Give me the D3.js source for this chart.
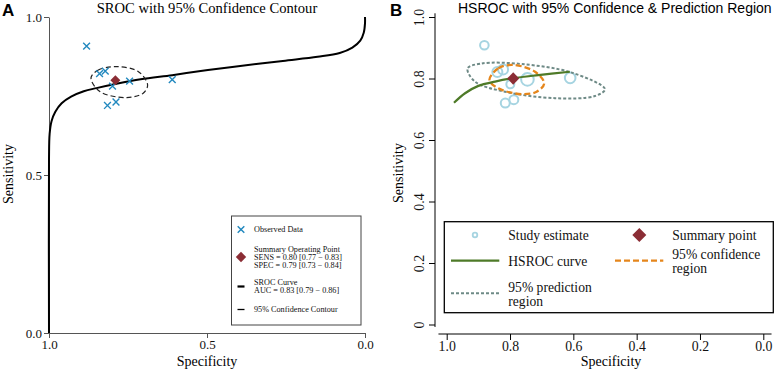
<!DOCTYPE html>
<html><head><meta charset="utf-8">
<script src="https://cdn.jsdelivr.net/npm/d3@7"></script>
<style>body{margin:0;background:#fff} svg{display:block}</style>
</head><body>
<svg id="c" width="778" height="371"></svg>
<script>
// ---------- DATA ----------
const studySpec = [0.881, 0.840, 0.822, 0.799, 0.745, 0.610, 0.815, 0.788];
const studySens = [0.908, 0.821, 0.829, 0.781, 0.797, 0.802, 0.720, 0.731];
const studySize = [4.3, 5.0, 5.0, 4.0, 6.3, 5.3, 4.5, 4.5];
const summarySpec = 0.79, summarySens = 0.80;

const srocSpec = [1.0, 1.0, 0.998, 0.992, 0.98, 0.96, 0.93, 0.89, 0.85, 0.79, 0.71, 0.61, 0.52, 0.42, 0.26, 0.15, 0.08, 0.04, 0.015, 0.004, 0.0, 0.0];
const srocSens = [0.0, 0.55, 0.63, 0.67, 0.70, 0.727, 0.748, 0.765, 0.775, 0.788, 0.803, 0.816, 0.829, 0.842, 0.861, 0.874, 0.886, 0.903, 0.925, 0.95, 0.98, 1.0];

const confASpec = [0.867, 0.844, 0.786, 0.717, 0.688, 0.702, 0.754, 0.839];
const confASens = [0.808, 0.832, 0.843, 0.827, 0.785, 0.759, 0.745, 0.764];

const hsrocSpec = [0.977, 0.942, 0.900, 0.847, 0.790, 0.711, 0.611];
const hsrocSens = [0.721, 0.752, 0.776, 0.790, 0.801, 0.811, 0.822];

const confBSpec = [0.865, 0.837, 0.790, 0.721, 0.692, 0.716, 0.763, 0.837];
const confBSens = [0.795, 0.833, 0.844, 0.822, 0.784, 0.757, 0.749, 0.768];

const predBSpec = [0.934, 0.889, 0.763, 0.605, 0.500, 0.532, 0.658, 0.816, 0.911];
const predBSens = [0.833, 0.849, 0.847, 0.819, 0.765, 0.743, 0.736, 0.757, 0.790];

const ticksA = [1.0, 0.5, 0.0];
const ticksB = [1.0, 0.8, 0.6, 0.4, 0.2, 0.0];
const tickLabelsBy = ["0", "0.2", "0.4", "0.6", "0.8", "1.0"];
const ticksBy = [0, 0.2, 0.4, 0.6, 0.8, 1.0];

const legendA = [
  {type:"cross", lines:["Observed Data"]},
  {type:"diamond", lines:["Summary Operating Point","SENS = 0.80 [0.77 \u2212 0.83]","SPEC = 0.79 [0.73 \u2212 0.84]"]},
  {type:"thick", lines:["SROC Curve","AUC = 0.83 [0.79 \u2212 0.86]"]},
  {type:"thin", lines:["95% Confidence Contour"]}
];

// ---------- STYLE ----------
const SERIF = "'Liberation Serif','Times New Roman',serif";
const SANS = "'Liberation Sans',Arial,sans-serif";
const crossCol = "#2389bf", diamondCol = "#8b2d35", circCol = "#a6d4e1",
      greenCol = "#4e7a28", orangeCol = "#e5861c", greyCol = "#6e8a86";

const svg = d3.select("#c");
const zip = (a, b) => a.map((v, i) => [v, b[i]]);

// ================= PANEL A =================
const xA = d3.scaleLinear().domain([1, 0]).range([49, 365]);
const yA = d3.scaleLinear().domain([0, 1]).range([333, 17]);
const gA = svg.append("g");

const axA = gA.append("g").attr("transform", "translate(0,333)")
  .call(d3.axisBottom(xA).tickValues(ticksA).tickFormat(d3.format(".1f")).tickSize(5).tickSizeOuter(0).tickPadding(2));
const ayA = gA.append("g").attr("transform", "translate(49,0)")
  .call(d3.axisLeft(yA).tickValues(ticksA).tickFormat(d3.format(".1f")).tickSize(5).tickSizeOuter(0).tickPadding(2));
[axA, ayA].forEach(a => {
  a.selectAll("path,line").attr("stroke", "#555").attr("stroke-width", 1);
  a.selectAll("text").attr("font-family", SERIF).attr("font-size", 13).attr("fill", "#111");
});

gA.append("text").attr("x", 207).attr("y", 13).attr("text-anchor", "middle")
  .attr("font-family", SERIF).attr("font-size", 14.6).text("SROC with 95% Confidence Contour");
gA.append("text").attr("x", 2).attr("y", 16).attr("font-family", SANS).attr("font-weight", "bold")
  .attr("font-size", 17).text("A");
gA.append("text").attr("x", 207).attr("y", 366).attr("text-anchor", "middle")
  .attr("font-family", SERIF).attr("font-size", 14).text("Specificity");
gA.append("text").attr("transform", "translate(12.5,174) rotate(-90)").attr("text-anchor", "middle")
  .attr("font-family", SERIF).attr("font-size", 14).text("Sensitivity");

// SROC curve
gA.append("path").datum(zip(srocSpec, srocSens))
  .attr("d", d3.line().x(d => xA(d[0])).y(d => yA(d[1])).curve(d3.curveCatmullRom.alpha(0.5)))
  .attr("fill", "none").attr("stroke", "#000").attr("stroke-width", 2);

// confidence contour
gA.append("path").datum(zip(confASpec, confASens))
  .attr("d", d3.line().x(d => xA(d[0])).y(d => yA(d[1])).curve(d3.curveCatmullRomClosed.alpha(0.5)))
  .attr("fill", "none").attr("stroke", "#222").attr("stroke-width", 1.2).attr("stroke-dasharray", "5,3");

// crosses
const crossPath = (cx, cy, r) => `M${cx-r},${cy-r}L${cx+r},${cy+r}M${cx-r},${cy+r}L${cx+r},${cy-r}`;
gA.selectAll("path.cross").data(zip(studySpec, studySens)).join("path").attr("class", "cross")
  .attr("d", d => crossPath(xA(d[0]), yA(d[1]), 3.4))
  .attr("stroke", crossCol).attr("stroke-width", 1.4).attr("fill", "none");

// summary diamond
const diamond = (cx, cy, w, h) => `M${cx},${cy-h}L${cx+w},${cy}L${cx},${cy+h}L${cx-w},${cy}Z`;
gA.append("path").attr("d", diamond(xA(summarySpec), yA(summarySens), 5, 5)).attr("fill", diamondCol);

// legend A
const lgA = gA.append("g");
lgA.append("rect").attr("x", 231.5).attr("y", 216).attr("width", 129.5).attr("height", 109)
  .attr("fill", "#fff").attr("stroke", "#444").attr("stroke-width", 1);
const legAy = [229.5, 257, 286.5, 309.5];
legendA.forEach((it, i) => {
  const cy = legAy[i], mx = 241;
  if (it.type === "cross") lgA.append("path").attr("d", crossPath(mx, cy, 3.3)).attr("stroke", crossCol).attr("stroke-width", 1.5);
  if (it.type === "diamond") lgA.append("path").attr("d", diamond(mx, cy, 5.2, 5.2)).attr("fill", diamondCol);
  if (it.type === "thick") lgA.append("line").attr("x1", mx-3.5).attr("x2", mx+3.5).attr("y1", cy).attr("y2", cy).attr("stroke", "#000").attr("stroke-width", 2.2);
  if (it.type === "thin") lgA.append("line").attr("x1", mx-3.5).attr("x2", mx+3.5).attr("y1", cy).attr("y2", cy).attr("stroke", "#000").attr("stroke-width", 1.3);
  const n = it.lines.length, lh = 8;
  it.lines.forEach((t, j) => {
    lgA.append("text").attr("x", 254).attr("y", cy + (j - (n-1)/2) * lh + 2.8)
      .attr("font-family", SERIF).attr("font-size", 8.2).attr("fill", "#111").text(t);
  });
});

// ================= PANEL B =================
const xB = d3.scaleLinear().domain([1, 0]).range([446.7, 763.3]);
const yB = d3.scaleLinear().domain([0, 1]).range([324.5, 17]);
const gB = svg.append("g");

// axis lines (R style)
gB.append("line").attr("x1", xB(1.026)).attr("x2", xB(-0.026)).attr("y1", 334).attr("y2", 334).attr("stroke", "#000");
gB.append("line").attr("x1", 435).attr("x2", 435).attr("y1", yB(1.012)).attr("y2", yB(-0.008)).attr("stroke", "#000");
const axB = gB.append("g").attr("transform", "translate(0,334)")
  .call(d3.axisBottom(xB).tickValues(ticksB).tickFormat(d3.format(".1f")).tickSize(6).tickSizeOuter(0).tickPadding(1));
const ayB = gB.append("g").attr("transform", "translate(435,0)")
  .call(d3.axisLeft(yB).tickValues(ticksBy).tickFormat((d, i) => tickLabelsBy[i]).tickSize(6).tickSizeOuter(0));
[axB, ayB].forEach(a => {
  a.select(".domain").remove();
  a.selectAll("line").attr("stroke", "#000");
  a.selectAll("text").attr("font-family", SERIF).attr("font-size", 13.8).attr("fill", "#111");
});
ayB.selectAll(".tick text").attr("x", null).attr("dy", null)
  .attr("text-anchor", "middle").attr("transform", "translate(-11,0) rotate(-90)");

gB.append("text").attr("x", 458).attr("y", 12.5).attr("font-family", SANS).attr("font-size", 14)
  .text("HSROC with 95% Confidence & Prediction Region");
gB.append("text").attr("x", 390).attr("y", 16).attr("font-family", SANS).attr("font-weight", "bold")
  .attr("font-size", 17).text("B");
gB.append("text").attr("x", 611).attr("y", 366).attr("text-anchor", "middle")
  .attr("font-family", SERIF).attr("font-size", 14).text("Specificity");
gB.append("text").attr("transform", "translate(403,173) rotate(-90)").attr("text-anchor", "middle")
  .attr("font-family", SERIF).attr("font-size", 14).text("Sensitivity");

// study circles
gB.selectAll("circle.st").data(studySpec.map((s, i) => [s, studySens[i], studySize[i]])).join("circle")
  .attr("class", "st").attr("cx", d => xB(d[0])).attr("cy", d => yB(d[1])).attr("r", d => d[2])
  .attr("fill", "none").attr("stroke", circCol).attr("stroke-width", 2);

// prediction region
gB.append("path").datum(zip(predBSpec, predBSens))
  .attr("d", d3.line().x(d => xB(d[0])).y(d => yB(d[1])).curve(d3.curveCatmullRomClosed.alpha(0.5)))
  .attr("fill", "none").attr("stroke", greyCol).attr("stroke-width", 2).attr("stroke-dasharray", "3,2");
// confidence region
gB.append("path").datum(zip(confBSpec, confBSens))
  .attr("d", d3.line().x(d => xB(d[0])).y(d => yB(d[1])).curve(d3.curveCatmullRomClosed.alpha(0.5)))
  .attr("fill", "none").attr("stroke", orangeCol).attr("stroke-width", 2.3).attr("stroke-dasharray", "6,3");
// HSROC curve
gB.append("path").datum(zip(hsrocSpec, hsrocSens))
  .attr("d", d3.line().x(d => xB(d[0])).y(d => yB(d[1])).curve(d3.curveCatmullRom.alpha(0.5)))
  .attr("fill", "none").attr("stroke", greenCol).attr("stroke-width", 2.2);
// summary
gB.append("path").attr("d", diamond(xB(summarySpec), yB(summarySens), 6, 6.3)).attr("fill", diamondCol);

// legend B
const lgB = gB.append("g");
lgB.append("rect").attr("x", 444.3).attr("y", 221.7).attr("width", 329).attr("height", 91)
  .attr("fill", "#fff").attr("stroke", "#000").attr("stroke-width", 1.3);
const legBtext = (x, y, t) => lgB.append("text").attr("x", x).attr("y", y)
  .attr("font-family", SERIF).attr("font-size", 13.6).attr("fill", "#111").text(t);
lgB.append("circle").attr("cx", 475).attr("cy", 235).attr("r", 2.3).attr("fill", "none").attr("stroke", circCol).attr("stroke-width", 1.8);
legBtext(508.3, 240, "Study estimate");
lgB.append("path").attr("d", diamond(639.3, 235, 7, 7)).attr("fill", diamondCol);
legBtext(672.3, 240, "Summary point");
lgB.append("line").attr("x1", 451).attr("x2", 499.3).attr("y1", 260.7).attr("y2", 260.7).attr("stroke", greenCol).attr("stroke-width", 2.2);
legBtext(508.3, 265.5, "HSROC curve");
lgB.append("line").attr("x1", 615).attr("x2", 663.3).attr("y1", 260.7).attr("y2", 260.7).attr("stroke", orangeCol).attr("stroke-width", 2.3).attr("stroke-dasharray", "6,3");
legBtext(672.3, 258.5, "95% confidence");
legBtext(672.3, 272.5, "region");
lgB.append("line").attr("x1", 451).attr("x2", 499.3).attr("y1", 293.3).attr("y2", 293.3).attr("stroke", greyCol).attr("stroke-width", 2).attr("stroke-dasharray", "3,2");
legBtext(508.3, 291.5, "95% prediction");
legBtext(508.3, 305.5, "region");
</script>
</body></html>
